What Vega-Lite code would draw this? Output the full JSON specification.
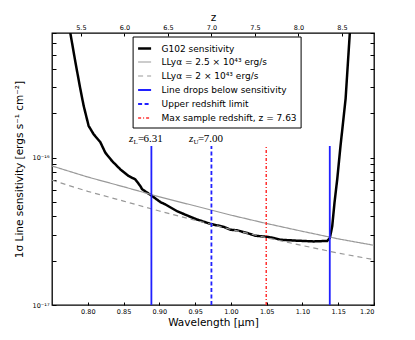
{
  "$schema": "https://vega.github.io/schema/vega-lite/v6.json",
  "width": 322,
  "height": 272,
  "autosize": "none",
  "padding": {"left": 52, "top": 33, "right": 41, "bottom": 35},
  "background": "white",
  "config": {
    "view": {"stroke": "black", "strokeWidth": 1.3},
    "font": "DejaVu Sans",
    "axis": {
      "domain": false,
      "grid": false,
      "tickColor": "black",
      "labelColor": "black",
      "titleColor": "black",
      "labelFont": "DejaVu Sans",
      "titleFont": "DejaVu Sans",
      "titleFontWeight": "normal",
      "labelFontSize": 6.5,
      "titleFontSize": 10.5
    }
  },
  "datasets": {
    "curves": [
      {"series": "G102 sensitivity", "lam": 0.7756, "flux": 7.0e-16},
      {"series": "G102 sensitivity", "lam": 0.7827, "flux": 4.44e-16},
      {"series": "G102 sensitivity", "lam": 0.7896, "flux": 2.92e-16},
      {"series": "G102 sensitivity", "lam": 0.7942, "flux": 2.25e-16},
      {"series": "G102 sensitivity", "lam": 0.8012, "flux": 1.64e-16},
      {"series": "G102 sensitivity", "lam": 0.8082, "flux": 1.44e-16},
      {"series": "G102 sensitivity", "lam": 0.8176, "flux": 1.27e-16},
      {"series": "G102 sensitivity", "lam": 0.8245, "flux": 1.08e-16},
      {"series": "G102 sensitivity", "lam": 0.8339, "flux": 9.48e-17},
      {"series": "G102 sensitivity", "lam": 0.8455, "flux": 8.32e-17},
      {"series": "G102 sensitivity", "lam": 0.8571, "flux": 7.5e-17},
      {"series": "G102 sensitivity", "lam": 0.8665, "flux": 7.11e-17},
      {"series": "G102 sensitivity", "lam": 0.8735, "flux": 6.41e-17},
      {"series": "G102 sensitivity", "lam": 0.8759, "flux": 6.1e-17},
      {"series": "G102 sensitivity", "lam": 0.8885, "flux": 5.55e-17},
      {"series": "G102 sensitivity", "lam": 0.9015, "flux": 4.99e-17},
      {"series": "G102 sensitivity", "lam": 0.9085, "flux": 4.81e-17},
      {"series": "G102 sensitivity", "lam": 0.9248, "flux": 4.33e-17},
      {"series": "G102 sensitivity", "lam": 0.9388, "flux": 4.05e-17},
      {"series": "G102 sensitivity", "lam": 0.9528, "flux": 3.8e-17},
      {"series": "G102 sensitivity", "lam": 0.9714, "flux": 3.55e-17},
      {"series": "G102 sensitivity", "lam": 0.99, "flux": 3.39e-17},
      {"series": "G102 sensitivity", "lam": 0.9994, "flux": 3.24e-17},
      {"series": "G102 sensitivity", "lam": 1.0087, "flux": 3.21e-17},
      {"series": "G102 sensitivity", "lam": 1.0227, "flux": 3.08e-17},
      {"series": "G102 sensitivity", "lam": 1.0343, "flux": 2.95e-17},
      {"series": "G102 sensitivity", "lam": 1.0507, "flux": 2.9e-17},
      {"series": "G102 sensitivity", "lam": 1.0599, "flux": 2.85e-17},
      {"series": "G102 sensitivity", "lam": 1.0693, "flux": 2.77e-17},
      {"series": "G102 sensitivity", "lam": 1.0927, "flux": 2.73e-17},
      {"series": "G102 sensitivity", "lam": 1.1159, "flux": 2.7e-17},
      {"series": "G102 sensitivity", "lam": 1.1346, "flux": 2.72e-17},
      {"series": "G102 sensitivity", "lam": 1.1383, "flux": 2.85e-17},
      {"series": "G102 sensitivity", "lam": 1.1416, "flux": 3.42e-17},
      {"series": "G102 sensitivity", "lam": 1.1448, "flux": 4.94e-17},
      {"series": "G102 sensitivity", "lam": 1.1486, "flux": 7.12e-17},
      {"series": "G102 sensitivity", "lam": 1.1532, "flux": 1.2e-16},
      {"series": "G102 sensitivity", "lam": 1.1603, "flux": 2.5e-16},
      {"series": "G102 sensitivity", "lam": 1.1662, "flux": 7.0e-16},
      {"series": "LLyα = 2.5 × 10⁴³ erg/s", "lam": 0.75, "flux": 8.77e-17},
      {"series": "LLyα = 2.5 × 10⁴³ erg/s", "lam": 0.8, "flux": 7.38e-17},
      {"series": "LLyα = 2.5 × 10⁴³ erg/s", "lam": 0.85, "flux": 6.34e-17},
      {"series": "LLyα = 2.5 × 10⁴³ erg/s", "lam": 0.9, "flux": 5.42e-17},
      {"series": "LLyα = 2.5 × 10⁴³ erg/s", "lam": 0.95, "flux": 4.7e-17},
      {"series": "LLyα = 2.5 × 10⁴³ erg/s", "lam": 1.0, "flux": 4.07e-17},
      {"series": "LLyα = 2.5 × 10⁴³ erg/s", "lam": 1.05, "flux": 3.57e-17},
      {"series": "LLyα = 2.5 × 10⁴³ erg/s", "lam": 1.1, "flux": 3.16e-17},
      {"series": "LLyα = 2.5 × 10⁴³ erg/s", "lam": 1.15, "flux": 2.81e-17},
      {"series": "LLyα = 2.5 × 10⁴³ erg/s", "lam": 1.2, "flux": 2.54e-17},
      {"series": "LLyα = 2 × 10⁴³ erg/s", "lam": 0.75, "flux": 7.02e-17},
      {"series": "LLyα = 2 × 10⁴³ erg/s", "lam": 0.8, "flux": 5.9e-17},
      {"series": "LLyα = 2 × 10⁴³ erg/s", "lam": 0.85, "flux": 5.07e-17},
      {"series": "LLyα = 2 × 10⁴³ erg/s", "lam": 0.9, "flux": 4.34e-17},
      {"series": "LLyα = 2 × 10⁴³ erg/s", "lam": 0.95, "flux": 3.76e-17},
      {"series": "LLyα = 2 × 10⁴³ erg/s", "lam": 1.0, "flux": 3.26e-17},
      {"series": "LLyα = 2 × 10⁴³ erg/s", "lam": 1.05, "flux": 2.86e-17},
      {"series": "LLyα = 2 × 10⁴³ erg/s", "lam": 1.1, "flux": 2.53e-17},
      {"series": "LLyα = 2 × 10⁴³ erg/s", "lam": 1.15, "flux": 2.25e-17},
      {"series": "LLyα = 2 × 10⁴³ erg/s", "lam": 1.2, "flux": 2.03e-17}
    ],
    "vlines": [
      {"series": "Line drops below sensitivity", "lam": 0.8889},
      {"series": "Line drops below sensitivity", "lam": 1.1382},
      {"series": "Upper redshift limit", "lam": 0.9728},
      {"series": "Max sample redshift, z = 7.63", "lam": 1.0494}
    ],
    "ann": [
      {"lam": 0.8889, "flux": 1.27e-16, "sub": "L", "val": "6.31"},
      {"lam": 0.9728, "flux": 1.27e-16, "sub": "U", "val": "7.00"}
    ],
    "zaxis": [
      {"z": 5.1678, "flux": 1e-17},
      {"z": 8.8684, "flux": 7e-16}
    ]
  },
  "layer": [
    {
      "data": {"name": "curves"},
      "mark": {"type": "line", "clip": true},
      "encoding": {
        "x": {
          "field": "lam", "type": "quantitative",
          "scale": {"domain": [0.75, 1.2], "nice": false, "zero": false},
          "axis": {
            "orient": "bottom",
            "values": [0.8, 0.85, 0.9, 0.95, 1.0, 1.05, 1.1, 1.15, 1.2],
            "format": ".2f",
            "tickSize": -3,
            "labelPadding": 6,
            "title": "Wavelength [μm]",
            "titlePadding": 3
          }
        },
        "y": {
          "field": "flux", "type": "quantitative",
          "scale": {"type": "log", "domain": [1e-17, 7e-16], "nice": false},
          "axis": {
            "orient": "left",
            "values": [1e-17, 2e-17, 3e-17, 4e-17, 5e-17, 6e-17, 7e-17, 8e-17, 9e-17, 1e-16, 2e-16, 3e-16, 4e-16, 5e-16, 6e-16, 7e-16],
            "labelExpr": "datum.value === 1e-16 ? '10⁻¹⁶' : (datum.value === 1e-17 ? '10⁻¹⁷' : '')",
            "tickSize": -4,
            "labelPadding": 7,
            "labelFontSize": 6.5,
            "title": "1σ Line sensitivity [ergs s⁻¹ cm⁻²]",
            "titlePadding": 8
          }
        },
        "color": {
          "field": "series", "type": "nominal",
          "scale": {
            "domain": ["G102 sensitivity", "LLyα = 2.5 × 10⁴³ erg/s", "LLyα = 2 × 10⁴³ erg/s", "Line drops below sensitivity", "Upper redshift limit", "Max sample redshift, z = 7.63"],
            "range": ["#000000", "#999999", "#999999", "#2020ff", "#2020ff", "#ff3030"]
          },
          "legend": {
            "orient": "none", "legendX": 80.6, "legendY": 3.5,
            "title": null, "strokeColor": "black", "fillColor": "white",
            "padding": 4, "symbolType": "stroke", "symbolSize": 169,
            "rowPadding": 1, "labelFontSize": 9, "labelFont": "DejaVu Sans",
            "labelOffset": 9, "labelColor": "black", "cornerRadius": 0
          }
        },
        "strokeDash": {
          "field": "series", "type": "nominal",
          "scale": {
            "type": "ordinal",
            "domain": ["G102 sensitivity", "LLyα = 2.5 × 10⁴³ erg/s", "LLyα = 2 × 10⁴³ erg/s", "Line drops below sensitivity", "Upper redshift limit", "Max sample redshift, z = 7.63"],
            "range": [[1, 0], [1, 0], [5, 4], [1, 0], [4, 2.5], [3, 2, 1, 2]]
          }
        },
        "strokeWidth": {
          "field": "series", "type": "nominal",
          "scale": {
            "type": "ordinal",
            "domain": ["G102 sensitivity", "LLyα = 2.5 × 10⁴³ erg/s", "LLyα = 2 × 10⁴³ erg/s", "Line drops below sensitivity", "Upper redshift limit", "Max sample redshift, z = 7.63"],
            "range": [2.5, 1.2, 1.2, 1.8, 1.8, 1.5]
          }
        }
      }
    },
    {
      "data": {"name": "vlines"},
      "mark": {"type": "rule"},
      "encoding": {
        "x": {"field": "lam", "type": "quantitative", "scale": {"domain": [0.75, 1.2], "nice": false, "zero": false}, "axis": null},
        "y": {"datum": 1e-17, "type": "quantitative", "axis": null},
        "y2": {"datum": 1.2e-16},
        "color": {
          "field": "series", "type": "nominal",
          "scale": {
            "domain": ["G102 sensitivity", "LLyα = 2.5 × 10⁴³ erg/s", "LLyα = 2 × 10⁴³ erg/s", "Line drops below sensitivity", "Upper redshift limit", "Max sample redshift, z = 7.63"],
            "range": ["#000000", "#999999", "#999999", "#2020ff", "#2020ff", "#ff3030"]
          },
          "legend": {
            "orient": "none", "legendX": 80.6, "legendY": 3.5,
            "title": null, "strokeColor": "black", "fillColor": "white",
            "padding": 4, "symbolType": "stroke", "symbolSize": 169,
            "rowPadding": 1, "labelFontSize": 9, "labelFont": "DejaVu Sans",
            "labelOffset": 9, "labelColor": "black", "cornerRadius": 0
          }
        },
        "strokeDash": {
          "field": "series", "type": "nominal",
          "scale": {
            "type": "ordinal",
            "domain": ["G102 sensitivity", "LLyα = 2.5 × 10⁴³ erg/s", "LLyα = 2 × 10⁴³ erg/s", "Line drops below sensitivity", "Upper redshift limit", "Max sample redshift, z = 7.63"],
            "range": [[1, 0], [1, 0], [5, 4], [1, 0], [4, 2.5], [3, 2, 1, 2]]
          }
        },
        "strokeWidth": {
          "field": "series", "type": "nominal",
          "scale": {
            "type": "ordinal",
            "domain": ["G102 sensitivity", "LLyα = 2.5 × 10⁴³ erg/s", "LLyα = 2 × 10⁴³ erg/s", "Line drops below sensitivity", "Upper redshift limit", "Max sample redshift, z = 7.63"],
            "range": [2.5, 1.2, 1.2, 1.8, 1.8, 1.5]
          }
        }
      }
    },
    {
      "data": {"name": "ann"},
      "mark": {"type": "text", "text": "z", "font": "Liberation Serif", "fontStyle": "italic", "fontSize": 11, "align": "left", "baseline": "alphabetic", "dx": -22.5, "color": "black"},
      "encoding": {
        "x": {"field": "lam", "type": "quantitative", "scale": {"domain": [0.75, 1.2], "nice": false, "zero": false}, "axis": null},
        "y": {"field": "flux", "type": "quantitative", "axis": null}
      }
    },
    {
      "data": {"name": "ann"},
      "mark": {"type": "text", "font": "Liberation Serif", "fontSize": 7, "align": "left", "baseline": "alphabetic", "dx": -18, "dy": 1.5, "color": "black"},
      "encoding": {
        "x": {"field": "lam", "type": "quantitative", "scale": {"domain": [0.75, 1.2], "nice": false, "zero": false}, "axis": null},
        "y": {"field": "flux", "type": "quantitative", "axis": null},
        "text": {"field": "sub"}
      }
    },
    {
      "data": {"name": "ann"},
      "mark": {"type": "text", "text": "=", "font": "Liberation Serif", "fontSize": 11, "align": "left", "baseline": "alphabetic", "dx": -13.5, "color": "black"},
      "encoding": {
        "x": {"field": "lam", "type": "quantitative", "scale": {"domain": [0.75, 1.2], "nice": false, "zero": false}, "axis": null},
        "y": {"field": "flux", "type": "quantitative", "axis": null}
      }
    },
    {
      "data": {"name": "ann"},
      "mark": {"type": "text", "font": "Liberation Serif", "fontSize": 11, "align": "left", "baseline": "alphabetic", "dx": -7.8, "color": "black"},
      "encoding": {
        "x": {"field": "lam", "type": "quantitative", "scale": {"domain": [0.75, 1.2], "nice": false, "zero": false}, "axis": null},
        "y": {"field": "flux", "type": "quantitative", "axis": null},
        "text": {"field": "val"}
      }
    },
    {
      "data": {"name": "zaxis"},
      "mark": {"type": "point", "opacity": 0},
      "encoding": {
        "x": {
          "field": "z", "type": "quantitative",
          "scale": {"domain": [5.1678, 8.8684], "nice": false, "zero": false},
          "axis": {
            "orient": "top",
            "values": [5.5, 6.0, 6.5, 7.0, 7.5, 8.0, 8.5],
            "format": ".1f",
            "tickSize": -3,
            "labelPadding": 6,
            "labelColor": "#000000",
            "title": "z",
            "titlePadding": 2
          }
        },
        "y": {
          "field": "flux", "type": "quantitative",
          "axis": {
            "orient": "right",
            "values": [1e-17, 2e-17, 3e-17, 4e-17, 5e-17, 6e-17, 7e-17, 8e-17, 9e-17, 1e-16, 2e-16, 3e-16, 4e-16, 5e-16, 6e-16, 7e-16],
            "labels": false,
            "tickSize": -4,
            "title": null
          }
        }
      }
    }
  ],
  "resolve": {
    "scale": {"x": "independent"},
    "axis": {"x": "independent", "y": "independent"}
  }
}
